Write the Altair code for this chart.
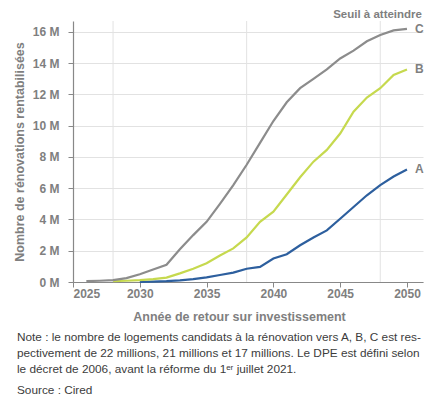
import altair as alt
import pandas as pd

years_a = list(range(2030, 2051))
vals_a = [0.0, 0.02, 0.05, 0.1, 0.18, 0.3, 0.45, 0.6, 0.85, 0.97, 1.5, 1.78, 2.35, 2.85,
          3.3, 4.05, 4.8, 5.55, 6.2, 6.75, 7.2]
years_b = list(range(2028, 2051))
vals_b = [0.05, 0.08, 0.12, 0.18, 0.28, 0.55, 0.85, 1.2, 1.7, 2.15, 2.85, 3.85, 4.5, 5.6,
          6.7, 7.7, 8.45, 9.5, 10.9, 11.8, 12.4, 13.25, 13.6]
years_c = list(range(2026, 2051))
vals_c = [0.05, 0.08, 0.12, 0.25, 0.5, 0.8, 1.1, 2.1, 3.0, 3.85, 5.0, 6.2, 7.5, 8.9, 10.3,
          11.5, 12.4, 13.0, 13.6, 14.3, 14.8, 15.4, 15.8, 16.1, 16.2]
series = ["A", "B", "C"]
colors = ["#2d5f9e", "#c6d94e", "#8c8c8c"]
x_ticks = [2025, 2030, 2035, 2040, 2045, 2050]
y_ticks = [0, 2, 4, 6, 8, 10, 12, 14, 16]
x_grid = [2028, 2038, 2048]

note_lines = [
    "Note : le nombre de logements candidats à la rénovation vers A, B, C est res-",
    "pectivement de 22 millions, 21 millions et 17 millions. Le DPE est défini selon",
    "le décret de 2006, avant la réforme du 1ᵉʳ juillet 2021.",
]
source = "Source : Cired"

rows = []
for s, ys_, vs in zip(series, [years_a, years_b, years_c], [vals_a, vals_b, vals_c]):
    for y, v in zip(ys_, vs):
        rows.append({"serie": s, "annee": y, "val": v})
df = pd.DataFrame(rows)
df_end = df.groupby("serie").tail(1)

FONT = "Liberation Sans"
GREY = "#7f7f7f"

xs = alt.Scale(domain=[2025, 2051.2], nice=False, zero=False)
ys = alt.Scale(domain=[0, 16.7], nice=False)
cs = alt.Scale(domain=series, range=colors)

xaxis = alt.Axis(values=x_ticks, format="d", grid=False, labelOverlap=False,
                 title="Année de retour sur investissement", titlePadding=11,
                 titleX=166, titleAnchor="middle")
yaxis = alt.Axis(values=y_ticks, labelExpr="datum.value + ' M'", grid=True,
                 labelOverlap=False,
                 title="Nombre de rénovations rentabilisées", titlePadding=6)

grid = alt.Chart(pd.DataFrame({"g": x_grid})).mark_rule(color="#e2e2e2", strokeWidth=1).encode(
    x=alt.X("g:Q", scale=xs, axis=xaxis)
)

lines = alt.Chart(df).mark_line(strokeWidth=2.2).encode(
    x=alt.X("annee:Q", scale=xs, axis=xaxis),
    y=alt.Y("val:Q", scale=ys, axis=yaxis),
    color=alt.Color("serie:N", scale=cs, legend=None),
)

labels = alt.Chart(df_end).mark_text(
    align="left", dx=8, font=FONT, fontWeight="bold", fontSize=12, color=GREY
).encode(x=alt.X("annee:Q", scale=xs, axis=xaxis), y=alt.Y("val:Q", scale=ys, axis=yaxis),
         text="serie:N")

seuil = alt.Chart(pd.DataFrame({"t": ["Seuil à atteindre"]})).mark_text(
    align="right", baseline="middle", font=FONT, fontWeight="bold", fontSize=11.5, color=GREY
).encode(x=alt.value(349), y=alt.value(-6), text="t:N")

notes = alt.Chart(pd.DataFrame({"t": ["\n".join(note_lines)]})).mark_text(
    align="left", baseline="middle", font=FONT, fontSize=11.8, color="#3c3c3c",
    lineBreak="\n", lineHeight=16,
).encode(x=alt.value(-56), y=alt.value(316), text="t:N")

src = alt.Chart(pd.DataFrame({"t": [source]})).mark_text(
    align="left", baseline="middle", font=FONT, fontSize=11.8, color="#3c3c3c",
).encode(x=alt.value(-56), y=alt.value(369), text="t:N")

chart = alt.layer(grid, lines, labels, seuil, notes, src).properties(
    width=350, height=261,
    autosize=alt.AutoSizeParams(type="none"),
    padding={"left": 65, "top": 13, "right": 16, "bottom": 116},
).configure_view(stroke=None).configure_axis(
    labelFont=FONT, titleFont=FONT, labelFontWeight="bold", titleFontWeight="bold",
    labelFontSize=12, titleFontSize=12.5, labelColor=GREY, titleColor=GREY,
    domainColor="#888888", domainWidth=1.2, tickColor="#888888", tickSize=5,
    gridColor="#e2e2e2", labelPadding=3,
).configure_axisY(labelPadding=9, domain=True).configure_axisX(labelPadding=1)

chart.save("out.html", embed_options={"renderer": "svg", "actions": False})
